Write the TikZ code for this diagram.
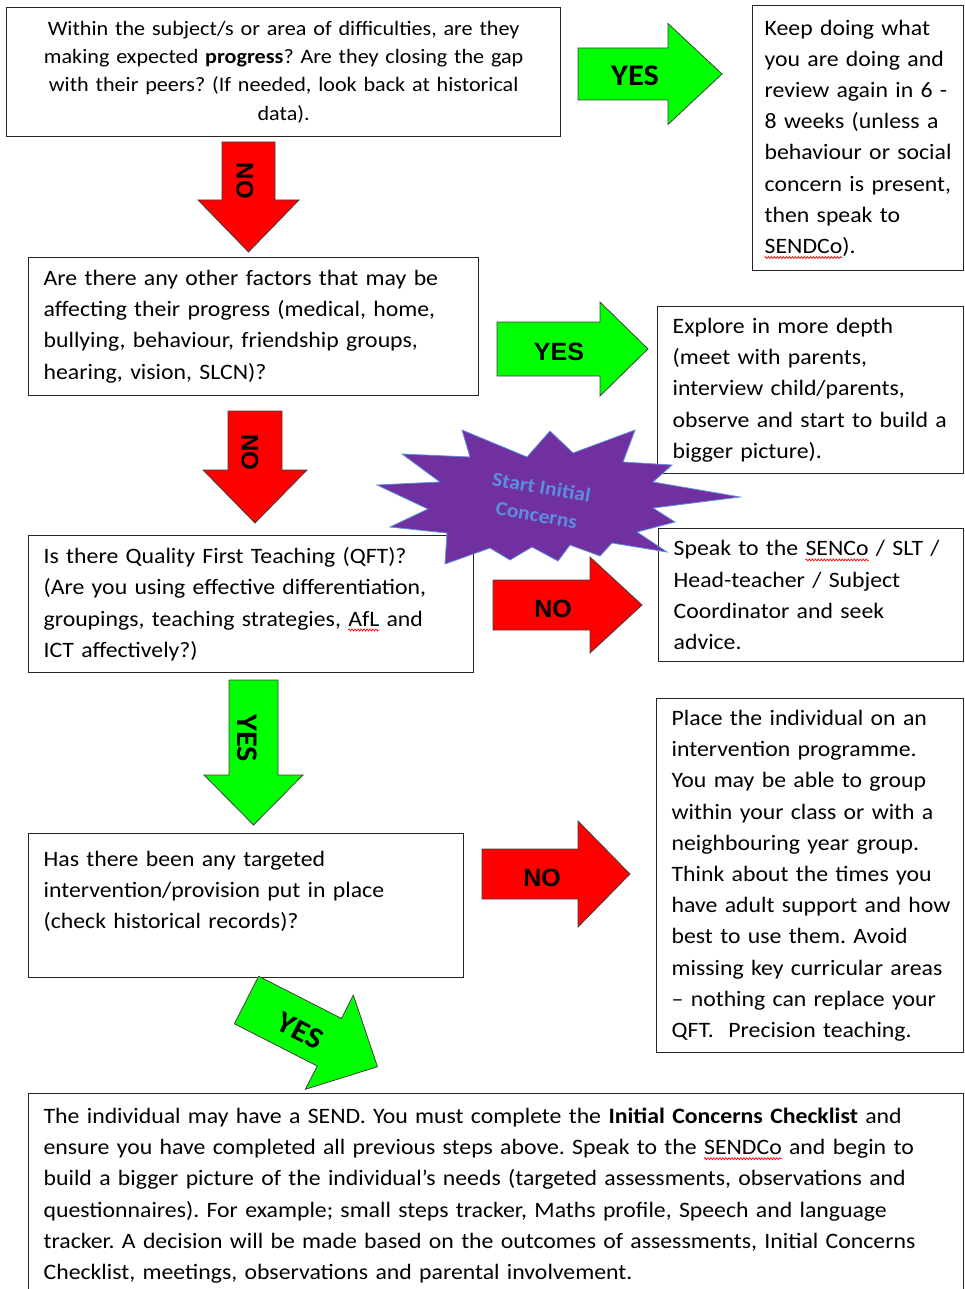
\documentclass[tikz,border=0pt]{standalone}
\usepackage{fontspec}
\setmainfont{Carlito}[FakeStretch=1.08]
\newfontfamily\arrowfont{Liberation Sans}
\usepackage{tikz}
\usetikzlibrary{positioning, decorations.pathmorphing}
\definecolor{ArrowGreen}{RGB}{0,255,0}
\definecolor{ArrowRed}{RGB}{255,0,0}
\definecolor{BurstPurple}{RGB}{112,48,160}
\definecolor{BurstBlue}{RGB}{92,142,222}
\newcommand{\bodysize}{\fontsize{22}{31.2}\selectfont\frenchspacing}
\newsavebox{\spellbox}
\newcommand{\spell}[1]{\leavevmode\sbox{\spellbox}{#1}\rlap{\tikz[overlay, baseline=0pt, x=1pt, y=1pt]
    \draw[red, line width=0.7pt, decorate, decoration={zigzag, segment length=3pt, amplitude=1pt}] (0,-4) -- (\wd\spellbox,-4);}#1}
\tikzset{
    flowbox/.style={
        draw=black!85, line width=1.3pt, anchor=north west, inner xsep=15pt, inner ysep=3pt, align=left, font=\bodysize
    },
    yesarrow/.style={
        fill=ArrowGreen, draw=black!75, line width=0.8pt, line join=miter
    },
    noarrow/.style={
        fill=ArrowRed, draw=black!75, line width=0.8pt, line join=miter
    },
    nolabel/.style={
        font=\arrowfont\fontsize{25}{25}\selectfont\bfseries, inner sep=0pt
    },
    yeslabel/.style={
        font=\fontsize{30}{30}\selectfont\bfseries, inner sep=0pt
    },
    burstlabel/.style={
        font=\fontsize{20}{28}\selectfont\bfseries, text=BurstBlue, align=center, inner sep=0pt
    },
    pics/blockarrow/.style n args={4}{code={
        \draw[pic actions] (0,-#2) -- (#1,-#2) -- (#1,-#3) -- (#4,0) -- (#1,#3) -- (#1,#2) -- (0,#2) -- cycle;
    }}
}

\begin{document}
\begin{tikzpicture}[x=1pt, y=-1pt]
    \useasboundingbox (0,0) rectangle (964,1289);

    % --- question and advice boxes ---
    \node[flowbox, align=center, font=\fontsize{20.5}{28.3}\selectfont\frenchspacing, text width=524pt, minimum height=129pt] (progress) at (6,7)
        {Within the subject/s or area of difficulties, are they\\ making expected \textbf{progress}? Are they closing the gap\\ with their peers? (If needed, look back at historical\\ data).};
    \node[flowbox, inner xsep=12pt, text width=187pt, minimum height=265pt] (keepDoing) at (752,5)
        {Keep doing what\\ you are doing and\\ review again in 6 -\\ 8 weeks (unless a\\ \mbox{behaviour or social}\\ concern is present,\\ then speak to\\ \spell{SENDCo}).};
    \node[flowbox, text width=420pt, minimum height=138pt] (factors) at (28,257)
        {Are there any other factors that may be\\ affecting their progress (medical, home,\\ bullying, behaviour, friendship groups,\\ hearing, vision, SLCN)?};
    \node[flowbox, text width=276pt, minimum height=167pt] (explore) at (657,306)
        {Explore in more depth\\ (meet with parents,\\ interview child/parents,\\ observe and start to build a\\ bigger picture).};
    \node[flowbox, text width=415pt, minimum height=137pt] (qft) at (28,535)
        {Is there Quality First Teaching (QFT)?\\ (Are you using effective differentiation,\\ groupings, teaching strategies, \spell{AfL} and\\ ICT affectively?)};
    \node[flowbox, text width=275pt, minimum height=133pt] (seekAdvice) at (658,528)
        {Speak to the \spell{SENCo} / SLT /\\ Head-teacher / Subject\\ Coordinator and seek\\ advice.};
    \node[flowbox, text width=405pt, minimum height=144pt] (intervention) at (28,833)
        {Has there been any targeted\\ intervention/provision put in place\\ (check historical records)?\\ \mbox{}};
    \node[flowbox, text width=277pt, minimum height=354pt] (programme) at (656,698)
        {Place the individual on an\\ intervention programme.\\ You may be able to group\\ within your class or with a\\ neighbouring year group.\\ Think about the times you\\ \mbox{have adult support and how}\\ best to use them. Avoid\\ \mbox{missing key curricular areas}\\ -- nothing can replace your\\ QFT.\ \ Precision teaching.};
    \node[flowbox, text width=905pt, minimum height=204pt] (send) at (28,1093)
        {The individual may have a SEND. You must complete the \textbf{Initial Concerns Checklist} and\\ ensure you have completed all previous steps above. Speak to the \spell{SENDCo} and begin to\\ build a bigger picture of the individual’s needs (targeted assessments, observations and\\ questionnaires). For example; small steps tracker, Maths profile, Speech and language\\ tracker. A decision will be made based on the outcomes of assessments, Initial Concerns\\ Checklist, meetings, observations and parental involvement.};

    % --- starburst ---
    \draw[fill=BurstPurple, draw=BurstBlue, line width=0.8pt]
        (462,430) -- (527,457) -- (550,431) -- (573,453) -- (635,430) -- (623,462)
        -- (672,465) -- (653,482) -- (740,497) -- (653,508) -- (675,522) -- (637,532)
        -- (667,552) -- (612,543) -- (600,556) -- (570,545) -- (558,561) -- (532,547)
        -- (510,560) -- (490,548) -- (445,564) -- (447,533) -- (390,527) -- (428,509)
        -- (377,485) -- (440,482) -- (402,454) -- (470,457) -- cycle;
    \node[burstlabel, rotate=-10] (burstText) at (539,501) {Start Initial\\ Concerns};

    % --- block arrows ---
    \pic[yesarrow] at (578,74) {blockarrow={90}{26}{50.5}{144}};
    \node[yeslabel] (yesKeep) at (635,76) {YES};
    \pic[noarrow, rotate=-90] at (248.5,142) {blockarrow={58}{26.5}{50.5}{110}};
    \node[nolabel, rotate=-90, font=\arrowfont\fontsize{24}{24}\selectfont\bfseries] (noFactors) at (245,181) {NO};
    \pic[yesarrow] at (497,349) {blockarrow={103}{27}{47}{151}};
    \node[nolabel] (yesExplore) at (559,352) {YES};
    \pic[noarrow, rotate=-90] at (255,411) {blockarrow={59}{27}{52}{112}};
    \node[nolabel, rotate=-90, font=\arrowfont\fontsize{24}{24}\selectfont\bfseries] (noQft) at (250,452) {NO};
    \pic[noarrow] at (493,605) {blockarrow={97}{25}{48}{149}};
    \node[nolabel] (noAdvice) at (553,609) {NO};
    \pic[yesarrow, rotate=-90] at (253.5,680) {blockarrow={95}{24.5}{49.5}{145}};
    \node[yeslabel, rotate=-90] (yesIntervention) at (247,738) {YES};
    \pic[noarrow] at (482,874) {blockarrow={96}{25}{53}{148}};
    \node[nolabel] (noProgramme) at (542,878) {NO};
    \pic[yesarrow, rotate=-27] at (246.5,1000) {blockarrow={93}{26.7}{52.8}{147}};
    \node[yeslabel, rotate=-27] (yesSend) at (300,1031) {YES};
\end{tikzpicture}
\end{document}
